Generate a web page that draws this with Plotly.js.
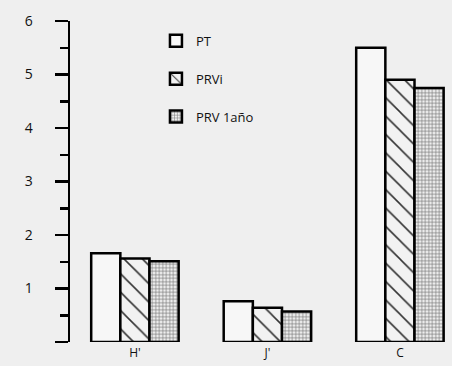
<!DOCTYPE html>
<html><head><meta charset="utf-8">
<script src="https://cdn.plot.ly/plotly-3.0.1.min.js"></script>
<style>html,body{margin:0;padding:0;background:#efefef}</style>
</head><body><div id="chart" style="width:452px;height:366px"></div>
<script>
var categories = ["H'", "J'", "C"];
var seriesNames = ["PT", "PRVi", "PRV 1año"];
var valuesPT = [1.66, 0.76, 5.50];
var valuesPRVi = [1.56, 0.64, 4.90];
var valuesPRV1 = [1.51, 0.57, 4.75];
var yTickVals = [0, 1, 2, 3, 4, 5, 6];
var yTickText = ["", "1", "2", "3", "4", "5", "6"];

var font = "Open Sans, Noto Sans, sans-serif";
var patterns = [
  {shape: "", fgcolor: "#000", bgcolor: "#f7f7f7"},
  {shape: "\\", fgcolor: "#333", bgcolor: "#f2f2f2", size: 13, solidity: 0.12},
  {shape: "+", fgcolor: "#777", bgcolor: "#eeeeee", size: 3.5, solidity: 0.35}
];
var allVals = [valuesPT, valuesPRVi, valuesPRV1];
var traces = allVals.map(function(v, i){
  return {
    type: "bar", x: [0,1,2], y: v, name: seriesNames[i], legendgroup: "g"+i,
    marker: {color: "#f7f7f7", line: {color: "#000", width: 2.5}, pattern: patterns[i]}
  };
});
var layout = {
  width: 452, height: 366,
  margin: {l: 70, r: 0, t: 21, b: 24},
  paper_bgcolor: "#efefef", plot_bgcolor: "rgba(0,0,0,0)",
  barmode: "group", bargap: 0.34, bargroupgap: 0,
  font: {family: font, color: "#111", size: 14},
  showlegend: true,
  legend: {x: 0.225, y: 0.985, xanchor: "left", yanchor: "top", bgcolor: "rgba(0,0,0,0)",
           font: {size: 13}, tracegroupgap: 18, traceorder: "grouped"},
  xaxis: {range: [-0.49, 2.393], tickvals: [0,1,2], ticktext: categories, showline: false,
          showgrid: false, zeroline: false, ticks: "", tickfont: {size: 12}, ticklabelstandoff: 2},
  yaxis: {range: [0, 6], tickvals: yTickVals, ticktext: yTickText, showline: true, linecolor: "#000",
          linewidth: 2.5, ticks: "outside", ticklen: 13, tickwidth: 2.5, tickcolor: "#000",
          showgrid: false, zeroline: false, ticklabelstandoff: 19, tickfont: {size: 14},
          minor: {dtick: 0.5, ticks: "outside", ticklen: 8, tickwidth: 2.5, tickcolor: "#000", showgrid: false}}
};
Plotly.newPlot("chart", traces, layout, {displayModeBar: false, staticPlot: true});
</script></body></html>
